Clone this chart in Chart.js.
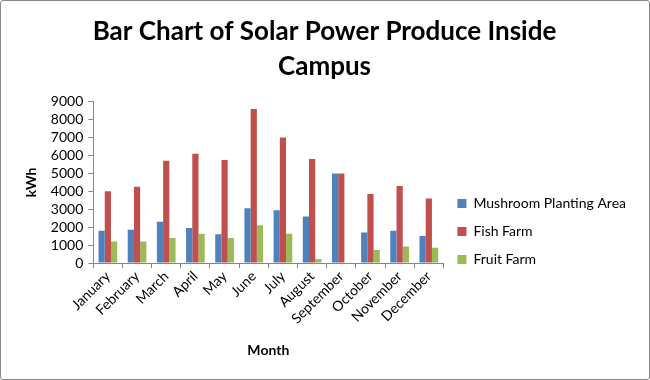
<!DOCTYPE html>
<html>
<head>
<meta charset="utf-8">
<script src="https://cdn.jsdelivr.net/npm/chart.js@4"></script>
<style>
  html, body { margin: 0; padding: 0; background: #fff; }
  #wrap {
    width: 650px; height: 380px; box-sizing: border-box;
    border: 1px solid #8a8a8a; border-radius: 3px; background: #fff;
  }
</style>
</head>
<body>
<div id="wrap"><canvas id="myChartSolar" width="648" height="378"></canvas></div>
<script>
const months = ['January', 'February', 'March', 'April', 'May', 'June',
  'July', 'August', 'September', 'October', 'November', 'December'];

const mushroom = [1800, 1850, 2300, 1950, 1600, 3050, 2950, 2600, 5000, 1700, 1800, 1500];
const fishFarm = [4000, 4250, 5700, 6100, 5750, 8600, 7000, 5800, 5000, 3850, 4300, 3600];
const fruitFarm = [1200, 1200, 1400, 1630, 1400, 2100, 1630, 220, 0, 730, 920, 850];

const yTicks = [0, 1000, 2000, 3000, 4000, 5000, 6000, 7000, 8000, 9000];

const font = 'Lato, "Open Sans", sans-serif';

const chartData = {
  labels: months,
  datasets: [
    { label: 'Mushroom Planting Area', data: mushroom, backgroundColor: '#4f81bd' },
    { label: 'Fish Farm', data: fishFarm, backgroundColor: '#c0504d' },
    { label: 'Fruit Farm', data: fruitFarm, backgroundColor: '#9bbb59' }
  ]
};

const config = {
  type: 'bar',
  data: chartData,
  options: {
    responsive: false,
    animation: false,
    layout: { padding: { left: 12, right: 13, top: 0, bottom: 16 } },
    datasets: {
      bar: { categoryPercentage: 0.64, barPercentage: 1.0 }
    },
    plugins: {
      title: {
        display: true,
        text: ['Bar Chart of Solar Power Produce Inside', 'Campus'],
        color: '#000',
        font: { family: font, size: 26, weight: 'bold', lineHeight: 1.36 },
        padding: { top: 13, bottom: 17 }
      },
      legend: {
        position: 'right',
        maxWidth: 215,
        title: {
          display: true, text: ' ',
          font: { family: font, size: 10 },
          padding: { top: 87, bottom: 0 }
        },
        labels: {
          color: '#000',
          font: { family: font, size: 14 },
          boxWidth: 9,
          boxHeight: 9,
          padding: 14
        }
      },
      tooltip: { enabled: false }
    },
    scales: {
      x: {
        grid: { drawOnChartArea: false, color: '#868686', tickLength: 5 },
        border: { color: '#868686' },
        ticks: {
          color: '#000', font: { family: font, size: 14 },
          maxRotation: 45, minRotation: 45, padding: 0, autoSkip: false
        },
        title: {
          display: true, text: 'Month', color: '#000',
          font: { family: font, size: 14, weight: 'bold' },
          padding: { top: 15 }
        }
      },
      y: {
        min: 0,
        max: 9000,
        afterBuildTicks: function (axis) {
          axis.ticks = yTicks.map(function (v) { return { value: v }; });
        },
        grid: { drawOnChartArea: false, color: '#868686', tickLength: 5 },
        border: { color: '#868686' },
        ticks: {
          color: '#000', font: { family: font, size: 14 }, padding: 5,
          autoSkip: false, stepSize: 1000,
          callback: function (v) { return String(v); }
        },
        title: {
          display: true, text: 'kWh', color: '#000',
          font: { family: font, size: 14, weight: 'bold' },
          padding: { top: 10, bottom: 6 }
        }
      }
    }
  }
};

const myChart = new Chart(document.getElementById('myChartSolar'), config);
</script>
</body>
</html>
